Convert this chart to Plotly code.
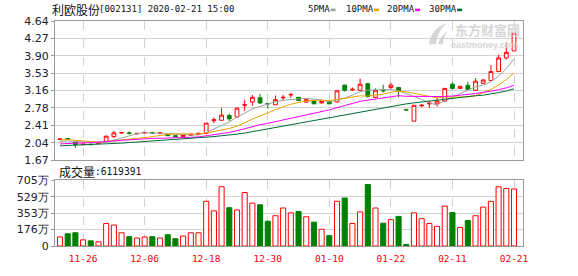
import plotly.graph_objects as go
import pandas as pd

# ---------------- data ----------------
dates = ["11-21", "11-22", "11-25", "11-26", "11-27", "11-28", "11-29",
         "12-02", "12-03", "12-04", "12-05", "12-06", "12-09", "12-10", "12-11", "12-12", "12-13",
         "12-16", "12-17", "12-18", "12-19", "12-20", "12-23", "12-24", "12-25", "12-26", "12-27",
         "12-30", "12-31", "01-02", "01-03", "01-06", "01-07", "01-08", "01-09", "01-10",
         "01-13", "01-14", "01-15", "01-16", "01-17", "01-20", "01-21", "01-22", "01-23",
         "02-03", "02-04", "02-05", "02-06", "02-07", "02-10", "02-11", "02-12", "02-13", "02-14",
         "02-17", "02-18", "02-19", "02-20", "02-21"]

open_ = [2.11, 2.13, 2.05, 2.00, 2.01, 2.02, 2.07, 2.17, 2.25, 2.25,
         2.23, 2.25, 2.26, 2.24, 2.22, 2.19, 2.17, 2.20, 2.22, 2.24,
         2.51, 2.52, 2.62, 2.59, 2.84, 2.91, 3.00, 2.88, 2.85, 3.00,
         3.06, 3.01, 2.91, 2.93, 2.89, 2.92, 2.91, 3.27, 3.17, 3.16,
         3.30, 3.01, 3.16, 3.22, 3.22, 2.745, 2.50, 2.83, 2.87, 2.87,
         2.93, 3.29, 3.20, 3.265, 3.16, 3.31, 3.37, 3.56, 3.85, 4.00]
high = [2.13, 2.14, 2.06, 2.01, 2.02, 2.06, 2.19, 2.29, 2.27, 2.28,
        2.25, 2.26, 2.27, 2.27, 2.23, 2.20, 2.21, 2.24, 2.25, 2.46,
        2.58, 2.78, 2.66, 2.79, 2.96, 3.06, 3.08, 2.89, 3.05, 3.06,
        3.11, 3.02, 2.97, 2.94, 2.93, 2.93, 3.16, 3.28, 3.22, 3.41,
        3.32, 3.20, 3.28, 3.32, 3.23, 2.745, 2.84, 2.87, 2.93, 3.00,
        3.21, 3.33, 3.25, 3.34, 3.42, 3.40, 3.70, 3.92, 4.18, 4.38]
low = [2.10, 2.10, 1.93, 1.99, 1.99, 2.01, 2.06, 2.14, 2.23, 2.22,
       2.22, 2.24, 2.24, 2.22, 2.19, 2.16, 2.16, 2.19, 2.21, 2.23,
       2.46, 2.51, 2.50, 2.58, 2.72, 2.83, 2.87, 2.77, 2.85, 2.94,
       3.00, 2.94, 2.89, 2.87, 2.88, 2.87, 2.90, 3.13, 3.15, 3.16,
       3.00, 2.99, 3.11, 3.18, 3.01, 2.74, 2.50, 2.80, 2.78, 2.81,
       2.92, 3.17, 3.19, 3.16, 3.15, 3.30, 3.37, 3.56, 3.82, 4.00]
close = [2.12, 2.12, 2.00, 2.01, 2.00, 2.05, 2.18, 2.25, 2.26, 2.24,
         2.24, 2.26, 2.25, 2.25, 2.19, 2.17, 2.20, 2.22, 2.24, 2.46,
         2.53, 2.63, 2.55, 2.78, 2.85, 3.01, 2.89, 2.87, 2.96, 3.01,
         3.07, 2.94, 2.96, 2.87, 2.92, 2.87, 3.15, 3.16, 3.18, 3.29,
         3.03, 3.16, 3.15, 3.27, 3.14, 2.74, 2.84, 2.84, 2.885, 2.93,
         3.20, 3.20, 3.245, 3.18, 3.355, 3.38, 3.56, 3.85, 3.97, 4.38]
# volume in 万 (10k shares)
volume_wan = [97, 131, 142, 66, 55, 45, 242, 225, 142, 100,
              86, 97, 100, 86, 121, 79, 107, 142, 142, 480,
              377, 636, 411, 387, 574, 460, 442, 266, 325, 408,
              356, 370, 314, 256, 180, 111, 480, 515, 242, 366,
              660, 408, 245, 283, 318, 17, 356, 294, 242, 211,
              428, 359, 200, 273, 325, 418, 480, 636, 618, 611.9391]
# closes of the 29 sessions before the window (estimated from the MA lines)
prior_close = [1.92, 1.91, 1.90, 1.89, 1.88, 1.88, 1.89, 1.90, 1.89, 1.89,
               1.88, 1.89, 1.90, 1.91, 1.92, 1.93, 1.95, 1.96, 1.97, 1.99,
               2.05, 2.16, 2.18, 2.14, 2.12, 2.08, 2.05, 2.04, 2.06]

tick_dates = ["11-26", "12-06", "12-18", "12-30", "01-10", "01-22", "02-11", "02-21"]
price_ticks = [1.67, 2.04125, 2.4125, 2.78375, 3.155, 3.52625, 3.8975, 4.26875, 4.64]
price_tick_labels = ["1.67", "2.04", "2.41", "2.78", "3.16", "3.53", "3.90", "4.27", "4.64"]
vol_ticks = [0, 176.25, 352.5, 528.75, 705]
vol_tick_labels = ["0", "176万", "353万", "529万", "705万"]
ma_periods = [5, 10, 20, 30]
ma_names = ["5PMA", "10PMA", "20PMA", "30PMA"]
ma_colors = ["#a0a0a0", "#f0a000", "#ff00ff", "#006b35"]
stock_title = "利欧股份"
stock_info = "[002131] 2020-02-21 15:00"

# ---------------- figure ----------------
RED = "#ff0000"
GREEN = "#008000"
W, H = 578, 276
ML, MR, MT, MB = 55, 55, 21, 22
PW, PH = W - ML - MR, H - MT - MB


def px(x):
    return (x - ML) / PW


def py(y):
    return (H - MB - y) / PH


idx = list(range(len(dates)))
tickpos = [dates.index(d) for d in tick_dates]

fig = go.Figure()

fig.add_trace(go.Candlestick(
    x=idx, open=open_, high=high, low=low, close=close,
    increasing=dict(line=dict(color=RED, width=1), fillcolor="white"),
    decreasing=dict(line=dict(color=GREEN, width=1), fillcolor=GREEN),
    whiskerwidth=0, xaxis="x", yaxis="y", showlegend=False, hoverinfo="skip"))

all_close = pd.Series(prior_close + close)
for n, name, col in zip(ma_periods, ma_names, ma_colors):
    ma = all_close.rolling(n).mean().iloc[-len(close):].tolist()
    fig.add_trace(go.Scatter(x=idx, y=ma, mode="lines", name=name,
                             line=dict(color=col, width=1), xaxis="x", yaxis="y",
                             showlegend=False, hoverinfo="skip"))

up = []
for i in idx:
    if close[i] > open_[i]:
        up.append(True)
    elif close[i] < open_[i]:
        up.append(False)
    else:
        up.append(close[i] >= (close[i - 1] if i > 0 else close[i]))

fig.add_trace(go.Bar(
    x=idx, y=volume_wan, width=0.66,
    marker=dict(color=["white" if u else GREEN for u in up],
                line=dict(color=[RED if u else GREEN for u in up], width=1)),
    xaxis="x2", yaxis="y2", showlegend=False, hoverinfo="skip"))

xr = [-0.65, 60.17]
grid_h = "#d2d2d2"
frame = "#9a9a9a"
tickfont = dict(family="DejaVu Sans", size=11, color="#202030")

fig.update_layout(
    width=W, height=H,
    margin=dict(l=ML, r=MR, t=MT, b=MB, pad=0),
    paper_bgcolor="white", plot_bgcolor="white",
    boxgap=0.3,
    bargap=0.3,
    xaxis=dict(domain=[0, 1], anchor="y", range=xr, tickvals=tickpos, showticklabels=False,
               showgrid=True, gridcolor=grid_h, griddash="dash", gridwidth=1,
               showline=True, mirror=True, linecolor=frame, linewidth=1, zeroline=False,
               rangeslider=dict(visible=False), ticks=""),
    yaxis=dict(domain=[py(165), 1], anchor="x", range=[price_ticks[0], price_ticks[-1]],
               tickvals=price_ticks, ticktext=price_tick_labels, tickfont=tickfont,
               showgrid=True, gridcolor=grid_h, gridwidth=1, zeroline=False,
               showline=True, mirror=True, linecolor=frame, linewidth=1,
               ticks="outside", ticklen=3, tickcolor=frame),
    xaxis2=dict(domain=[0, 1], anchor="y2", range=xr, tickvals=tickpos, ticktext=tick_dates,
                tickfont=dict(family="DejaVu Sans Mono", size=9.5, color=RED),
                showgrid=True, gridcolor=grid_h, griddash="dash", gridwidth=1,
                showline=True, mirror=True, linecolor=frame, linewidth=1, zeroline=False,
                ticks="outside", ticklen=4, tickcolor="rgba(0,0,0,0)"),
    yaxis2=dict(domain=[0, py(186)], anchor="x2", range=[vol_ticks[0], vol_ticks[-1]],
                tickvals=vol_ticks, ticktext=vol_tick_labels, tickfont=tickfont,
                showgrid=True, gridcolor=grid_h, gridwidth=1, zeroline=False,
                showline=True, mirror=True, linecolor=frame, linewidth=1,
                ticks="outside", ticklen=3, tickcolor=frame),
)

ann = []
# title
ann.append(dict(x=px(50), y=py(9), xref="paper", yref="paper", xanchor="left", yanchor="middle",
                text=stock_title, showarrow=False,
                font=dict(family="Noto Sans CJK SC", size=12, color="#111")))
ann.append(dict(x=px(97), y=py(9), xref="paper", yref="paper", xanchor="left", yanchor="middle",
                text=stock_info, showarrow=False,
                font=dict(family="DejaVu Sans Mono", size=9, color="#111")))
# MA legend
leg_x = [306, 344, 385, 427]
for lx, name, col in zip(leg_x, ma_names, ma_colors):
    ann.append(dict(x=px(lx), y=py(9), xref="paper", yref="paper", xanchor="left", yanchor="middle",
                    text=name, showarrow=False,
                    font=dict(family="DejaVu Sans Mono", size=9, color="#111")))
    sx = lx + len(name) * 5.42 + 3
    fig.add_shape(type="rect", xref="paper", yref="paper",
                  x0=px(sx), x1=px(sx + 5), y0=py(10.8), y1=py(8.2),
                  fillcolor=col, line=dict(width=0))
# volume label
ann.append(dict(x=px(57), y=py(177), xref="paper", yref="paper", xanchor="left", yanchor="middle",
                text="成交量", showarrow=False,
                font=dict(family="Noto Sans CJK SC", size=12, color="#111")))
ann.append(dict(x=px(93), y=py(177), xref="paper", yref="paper", xanchor="left", yanchor="middle",
                text=":" + str(int(round(volume_wan[-1] * 10000))), showarrow=False,
                font=dict(family="DejaVu Sans Mono", size=9.6, color="#111")))
# watermark
wm = "#d6d6d6"
ann.append(dict(x=px(487), y=py(30), xref="paper", yref="paper", xanchor="center", yanchor="middle",
                text="<b>东方财富网</b>", showarrow=False,
                font=dict(family="Noto Sans CJK SC", size=13, color=wm)))
ann.append(dict(x=px(484), y=py(45.5), xref="paper", yref="paper", xanchor="center", yanchor="middle",
                text="<b>eastmoney.com</b>", showarrow=False,
                font=dict(family="Liberation Sans", size=9, color=wm)))
# watermark logo (swoosh)
logo = (f"M {px(429)},{py(45)} Q {px(431)},{py(29)} {px(447)},{py(23)} "
        f"Q {px(437)},{py(31)} {px(436)},{py(45)} Z "
        f"M {px(438)},{py(45)} Q {px(440)},{py(36)} {px(448)},{py(31)} "
        f"Q {px(443)},{py(37)} {px(443)},{py(45)} Z")
fig.add_shape(type="path", xref="paper", yref="paper", path=logo,
              fillcolor=wm, line=dict(width=0), layer="below")
fig.update_layout(annotations=ann)

fig.write_html("out.html")
